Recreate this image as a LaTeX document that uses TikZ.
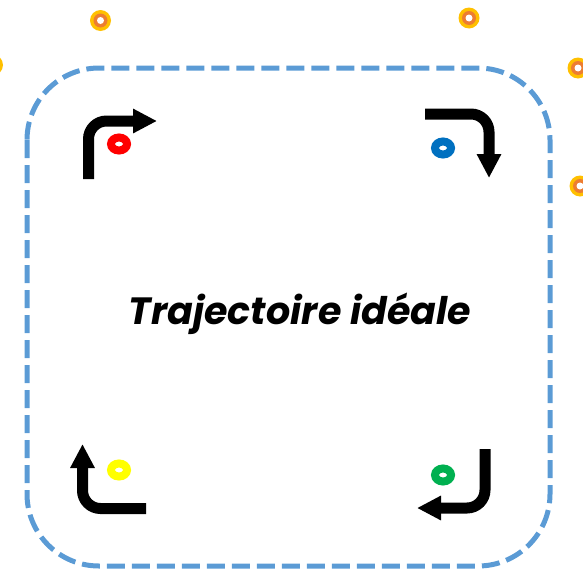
\documentclass[tikz,border=0pt]{standalone}
\usepackage{fontspec}
\setmainfont{Poppins}
\usetikzlibrary{arrows.meta,shapes.geometric}
\definecolor{frameblue}{HTML}{5B9BD5}
\definecolor{ringorange}{HTML}{ED7D31}
\definecolor{ringyellow}{HTML}{FFC000}
\definecolor{tokred}{HTML}{FF0000}
\definecolor{tokblue}{HTML}{0070C0}
\definecolor{tokgreen}{HTML}{00B050}
\definecolor{tokyellow}{HTML}{FFFF00}
\tikzset{
  frame/.style={draw=frameblue, line width=5pt, dash pattern=on 18pt off 7pt, rounded corners=72pt},
  turn/.style={draw=black, line width=11pt, rounded corners=18pt, -{Triangle[width=23pt,length=24pt]}},
  token/.style={ellipse, draw=#1, line width=8pt, minimum width=16pt, minimum height=13pt, inner sep=0pt},
  bead/.style={circle, fill=ringyellow, minimum size=21pt, inner sep=0pt,
    path picture={
      \fill[ringorange] (path picture bounding box.center) circle[radius=7pt];
      \fill[white] (path picture bounding box.center) circle[radius=3.5pt];}},
  title/.style={font=\bfseries\itshape\fontsize{38}{44}\selectfont, anchor=base, inner sep=0pt}
}
\begin{document}
\begin{tikzpicture}[x=1pt,y=-1pt]
\useasboundingbox (0,0) rectangle (583,573);
% frame
\draw[frame] (27,68) rectangle (550,566);
% beads outside
\node[bead] (b1) at (100.5,20.5) {};
\node[bead] (b2) at (-7.5,65) {};
\node[bead] (b3) at (469,18) {};
\node[bead] (b4) at (578,68) {};
\node[bead] (b5) at (580,186) {};
% tokens
\node[token=tokred] (tr) at (119,144) {};
\node[token=tokblue] (tb) at (443,148) {};
\node[token=tokgreen] (tg) at (443,475) {};
\node[token=tokyellow] (ty) at (119,470) {};
% turning arrows
\coordinate (a1s) at (88.5,179); \coordinate (a1c) at (88.5,121); \coordinate (a1e) at (157,121);
\coordinate (a2s) at (425,114); \coordinate (a2c) at (489,114); \coordinate (a2e) at (489,178);
\coordinate (a3s) at (485,449); \coordinate (a3c) at (485,508); \coordinate (a3e) at (417,508);
\coordinate (a4s) at (146,508.5); \coordinate (a4c) at (82.5,508.5); \coordinate (a4e) at (82.5,444);
\draw[turn] (a1s) -- (a1c) -- (a1e);
\draw[turn] (a2s) -- (a2c) -- (a2e);
\draw[turn] (a3s) -- (a3c) -- (a3e);
\draw[turn] (a4s) -- (a4c) -- (a4e);
% title
\node[title] (t) at (300,324) {Trajectoire idéale};
\end{tikzpicture}
\end{document}
